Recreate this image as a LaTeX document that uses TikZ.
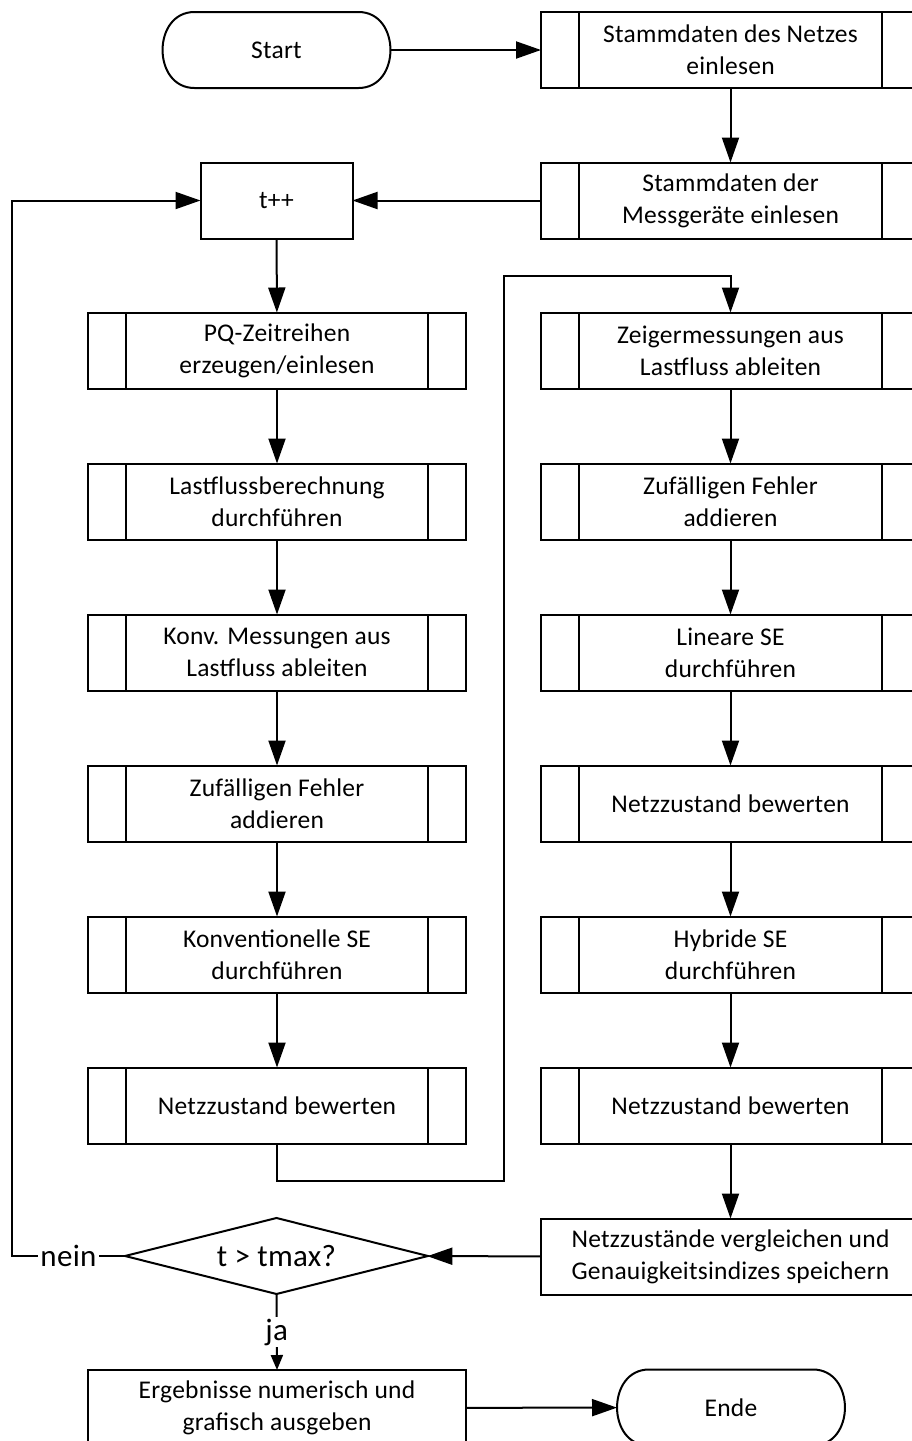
\documentclass[tikz,border=0pt]{standalone}
\usepackage{fontspec}
\setmainfont{Carlito}[LetterSpace=1]
\usetikzlibrary{arrows.meta,shapes.geometric,calc}
\tikzset{
  ln/.style={line width=2pt},
  txt/.style={font=\fontsize{25.5}{32}\selectfont, align=center, inner sep=0pt, outer sep=0pt},
  box/.style={txt, rectangle, draw, ln, minimum width=379pt, minimum height=76pt},
  proc/.style={box, path picture={
      \draw[line width=2pt] ([xshift=38pt]path picture bounding box.north west) -- ([xshift=38pt]path picture bounding box.south west)
        ([xshift=-38pt]path picture bounding box.north east) -- ([xshift=-38pt]path picture bounding box.south east);}},
  term/.style={txt, rectangle, minimum width=228pt, minimum height=76pt},
  dec/.style={txt, diamond, draw, ln, aspect=4, minimum width=303pt, minimum height=76pt, font=\fontsize{31}{36}\selectfont},
  arr/.style={ln, -{Triangle[length=25pt,width=17pt]}},
  arrs/.style={ln, -{Triangle[length=15pt,width=12pt]}},
  lbl/.style={fill=white, inner sep=2pt, font=\fontsize{31}{36}\selectfont}
}
\newcommand\termoutline[1]{%
  \draw[ln] ([xshift=32pt]#1.north west) -- ([xshift=-32pt]#1.north east)
    .. controls ([xshift=10.6pt]#1.north east) and ([xshift=10.6pt]#1.south east) .. ([xshift=-32pt]#1.south east)
    -- ([xshift=32pt]#1.south west)
    .. controls ([xshift=-10.6pt]#1.south west) and ([xshift=-10.6pt]#1.north west) .. ([xshift=32pt]#1.north west) -- cycle;}
\begin{document}
\begin{tikzpicture}[x=1pt,y=-1pt]
\clip (0,0) rectangle (912,1441);
\fill[white] (0,0) rectangle (912,1441);
% top
\node[term] (start) at (276.5,50) {Start};
\termoutline{start}
\node[proc] (netz) at (730.5,50) {Stammdaten des Netzes\\einlesen};
\node[proc] (mess) at (730.5,200.5) {Stammdaten der\\Messgeräte einlesen};
\node[box, minimum width=152pt] (tpp) at (276.5,200.5) {t++};
% left column
\node[proc, minimum width=378pt] (l1) at (277,350.5) {PQ-Zeitreihen\\erzeugen/einlesen};
\node[proc, minimum width=378pt] (l2) at (277,501.5) {Lastflussberechnung\\durchführen};
\node[proc, minimum width=378pt] (l3) at (277,652.5) {Konv. Messungen aus\\Lastfluss ableiten};
\node[proc, minimum width=378pt] (l4) at (277,803.5) {Zufälligen Fehler\\addieren};
\node[proc, minimum width=378pt] (l5) at (277,954.5) {Konventionelle SE\\durchführen};
\node[proc, minimum width=378pt] (l6) at (277,1105.5) {Netzzustand bewerten};
% right column
\node[proc] (r1) at (730.5,350.5) {Zeigermessungen aus\\Lastfluss ableiten};
\node[proc] (r2) at (730.5,501.5) {Zufälligen Fehler\\addieren};
\node[proc] (r3) at (730.5,652.5) {Lineare SE\\durchführen};
\node[proc] (r4) at (730.5,803.5) {Netzzustand bewerten};
\node[proc] (r5) at (730.5,954.5) {Hybride SE\\durchführen};
\node[proc] (r6) at (730.5,1105.5) {Netzzustand bewerten};
% bottom
\node[box] (cmp) at (730.5,1256.5) {Netzzustände vergleichen und\\Genauigkeitsindizes speichern};
\node[dec] (dec) at (276.5,1256) {t > tmax?};
\node[box, minimum width=378pt] (erg) at (277,1408) {Ergebnisse numerisch und\\grafisch ausgeben};
\node[term] (ende) at (731,1407.5) {Ende};
\termoutline{ende}
% connectors
\draw[arr] (start) -- (netz);
\draw[arr] (netz) -- (mess);
\draw[arr] (mess) -- (tpp);
\draw[arr] (tpp) -- (l1);
\draw[arr] (l1) -- (l2);
\draw[arr] (l2) -- (l3);
\draw[arr] (l3) -- (l4);
\draw[arr] (l4) -- (l5);
\draw[arr] (l5) -- (l6);
\draw[arr] (l6.south) -- ++(0,37.5) -- ++(227,0) |- ([yshift=37pt]r1.north) -- (r1.north);
\draw[arr] (r1) -- (r2);
\draw[arr] (r2) -- (r3);
\draw[arr] (r3) -- (r4);
\draw[arr] (r4) -- (r5);
\draw[arr] (r5) -- (r6);
\draw[arr] (r6) -- (cmp);
\draw[arr] (cmp) -- (dec);
\draw[arr] (dec.west) -- node[lbl]{nein} ++(-113,0) |- (tpp.west);
\draw[arrs] (dec.south) -- node[lbl]{ja} (erg.north);
\draw[arr] (erg) -- (ende);
\end{tikzpicture}
\end{document}
